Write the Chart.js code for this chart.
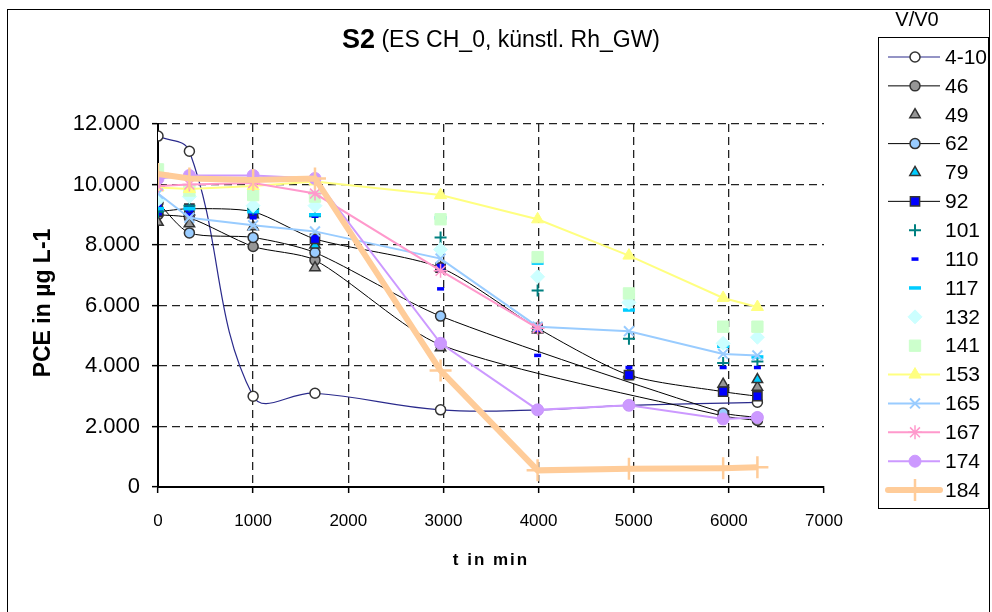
<!DOCTYPE html>
<html>
<head>
<meta charset="utf-8">
<script src="https://cdn.jsdelivr.net/npm/chart.js@4.4.1/dist/chart.umd.min.js"></script>
<style>
html, body { margin: 0; padding: 0; background: #fff; }
#wrap { width: 992px; height: 612px; position: relative; }
</style>
</head>
<body>
<div id="wrap"><canvas id="chart" width="992" height="612"></canvas></div>
<script>
// sampling times (min)
var times = [0, 330, 1000, 1650, 2970, 3990, 4950, 5940, 6300];

// PCE in ug/L per V/V0 series
var v4_10 = [11600, 11100, 3000, 3100, 2550, 2550, 2700, null, 2800];
var v46  = [9000, 8900, 7950, 7500, 4700, null, null, 2350, 2200];
var v49  = [8750, 8700, 8600, 7250, 4600, 5200, 3700, 3400, 3300];
var v62  = [9400, 8400, 8250, 7750, 5650, null, null, 2450, 2300];
var v79  = [9300, 9100, 9000, 8000, 7250, 5250, 3750, null, 3550];
var v92  = [9100, 9200, 9100, 8200, 7250, 5250, 3700, 3150, 3000];
var v101 = [9100, 9300, 9200, 8950, 8250, 6500, 4900, 4100, 4150];
var v110 = [9300, 9000, 8900, 8950, 6550, 4350, 3950, 3950, 3950];
var v117 = [9200, 9200, 9100, 9000, 8900, 7400, 5850, 4650, 4300];
var v132 = [9500, 9600, 9300, 9300, 7850, 6950, 6100, 4750, 4950];
var v141 = [10500, 9800, 9650, 9600, 8850, 7600, 6400, 5300, 5300];
var v153 = [9900, 9850, 9950, 10100, 9650, 8850, 7650, 6250, 5950];
var v165 = [9700, 8900, 8650, 8450, 7550, 5300, 5150, 4400, 4350];
var v167 = [9950, 10000, 10050, 9700, 7150, 5250, null, null, null];
var v174 = [10200, 10300, 10300, 10200, 4750, 2550, 2700, 2250, 2300];
var v184 = [10350, 10200, 10150, 10200, 3850, 550, 600, 620, 650];

var xTicks = [0, 1000, 2000, 3000, 4000, 5000, 6000, 7000];
var yTicks = [0, 2000, 4000, 6000, 8000, 10000, 12000];

var FONT = '"Liberation Sans", Arial, sans-serif';

function pts(vals) {
	var out = [];
	for (var i = 0; i < times.length; i++) {
		out.push({ x: times[i], y: vals[i] });
	}
	return out;
}

var idx = 0;
function makeSet(label, vals, s) {
	var ds = {
		label: label,
		data: pts(vals),
		showLine: s.line !== undefined,
		borderColor: s.line || 'transparent',
		borderWidth: s.lw || 1,
		tension: s.tension || 0,
		spanGaps: true,
		pointStyle: s.style,
		pointRadius: s.r,
		pointHoverRadius: s.r,
		pointBackgroundColor: s.fill || 'transparent',
		pointBorderColor: s.edge,
		pointBorderWidth: s.bw || 1,
		order: 100 - idx
	};
	idx++;
	return ds;
}

var datasets = [
	makeSet('4-10', v4_10, { line: '#2a2a8c', lw: 1.2, tension: 0.4, style: 'circle', r: 5, fill: '#ffffff', edge: '#333333', bw: 1.5 }),
	makeSet('46', v46, { line: '#000000', lw: 1, tension: 0.25, style: 'circle', r: 5, fill: '#969696', edge: '#333333', bw: 1.5 }),
	makeSet('49', v49, { style: 'triangle', r: 6, fill: '#969696', edge: '#333333', bw: 1.5 }),
	makeSet('62', v62, { line: '#000000', lw: 1, tension: 0.25, style: 'circle', r: 5, fill: '#99ccff', edge: '#333333', bw: 1.5 }),
	makeSet('79', v79, { style: 'triangle', r: 6, fill: '#00ccff', edge: '#333333', bw: 1.5 }),
	makeSet('92', v92, { line: '#000000', lw: 1, tension: 0.25, style: 'rect', r: 6.5, fill: '#0000ff', edge: '#333333', bw: 1.5 }),
	makeSet('101', v101, { style: 'cross', r: 6, edge: '#008080', bw: 2 }),
	makeSet('110', v110, { style: 'line', r: 3.5, edge: '#0000ff', bw: 3.5 }),
	makeSet('117', v117, { style: 'line', r: 6, edge: '#00ccff', bw: 3.5 }),
	makeSet('132', v132, { style: 'rectRot', r: 7, fill: '#ccffff', edge: '#ccffff', bw: 1 }),
	makeSet('141', v141, { style: 'rect', r: 8, fill: '#ccffcc', edge: '#ccffcc', bw: 1 }),
	makeSet('153', v153, { line: '#ffff80', lw: 2, style: 'triangle', r: 7, fill: '#ffff80', edge: '#ffff80', bw: 1 }),
	makeSet('165', v165, { line: '#99ccff', lw: 2, style: 'crossRot', r: 7, edge: '#99ccff', bw: 2 }),
	makeSet('167', v167, { line: '#ff99cc', lw: 2, style: 'star', r: 7, edge: '#ff99cc', bw: 1.5 }),
	makeSet('174', v174, { line: '#cc99ff', lw: 2, style: 'circle', r: 6, fill: '#cc99ff', edge: '#cc99ff', bw: 1 }),
	makeSet('184', v184, { line: '#ffcc99', lw: 6, style: 'cross', r: 11, edge: '#ffcc99', bw: 2.5 })
];

function fmtThousands(v) {
	if (v === 0) return '0';
	return String(v).replace(/\B(?=(\d{3})+(?!\d))/g, '.');
}

// frame, title, axis titles and the boxed legend
var decorations = {
	id: 'decorations',
	afterDraw: function(chart) {
		var ctx = chart.ctx;
		ctx.save();

		// outer frame
		ctx.strokeStyle = '#000';
		ctx.lineWidth = 1;
		ctx.strokeRect(7.5, 9.5, 982, 640);

		// title: bold "S2" + normal rest
		ctx.fillStyle = '#000';
		ctx.textBaseline = 'middle';
		ctx.textAlign = 'left';
		var t1 = 'S2', t2 = ' (ES CH_0, künstl. Rh_GW)';
		ctx.font = 'bold 27px ' + FONT;
		var w1 = ctx.measureText(t1).width;
		ctx.font = '23px ' + FONT;
		var w2 = ctx.measureText(t2).width;
		var x0 = 501 - (w1 + w2) / 2;
		ctx.font = 'bold 27px ' + FONT;
		ctx.fillText(t1, x0, 41);
		ctx.font = '23px ' + FONT;
		ctx.fillText(t2, x0 + w1, 41);

		// y axis title
		ctx.save();
		ctx.translate(44, 303);
		ctx.rotate(-Math.PI / 2);
		ctx.textAlign = 'center';
		ctx.font = 'bold 23px ' + FONT;
		ctx.fillText('PCE in µg L-1', 0, 0);
		ctx.restore();

		// x axis title
		ctx.textAlign = 'center';
		ctx.font = 'bold 17px ' + FONT;
		if ('letterSpacing' in ctx) ctx.letterSpacing = '2px';
		ctx.fillText('t in min', 491, 560);
		if ('letterSpacing' in ctx) ctx.letterSpacing = '0px';

		// legend title
		ctx.font = '20px ' + FONT;
		ctx.fillText('V/V0', 917, 20);

		// legend box
		ctx.strokeStyle = '#000';
		ctx.lineWidth = 1;
		ctx.strokeRect(878.5, 37.5, 110, 471);

		var sets = chart.data.datasets;
		for (var i = 0; i < sets.length; i++) {
			var ds = sets[i];
			var y = 57 + i * 28.87;
			if (ds.showLine) {
				ctx.save();
				ctx.strokeStyle = ds.borderColor;
				ctx.lineWidth = ds.borderWidth;
				ctx.lineCap = ds.borderWidth > 3 ? 'round' : 'butt';
				ctx.beginPath();
				ctx.moveTo(888, y);
				ctx.lineTo(940, y);
				ctx.stroke();
				ctx.restore();
			}
			if (Chart.helpers && Chart.helpers.drawPoint) {
				ctx.save();
				ctx.fillStyle = ds.pointBackgroundColor;
				ctx.strokeStyle = ds.pointBorderColor;
				ctx.lineWidth = ds.pointBorderWidth;
				Chart.helpers.drawPoint(ctx, {
					pointStyle: ds.pointStyle,
					radius: ds.pointRadius,
					borderWidth: ds.pointBorderWidth,
					rotation: 0
				}, 915, y);
				ctx.restore();
			}
			ctx.fillStyle = '#000';
			ctx.textAlign = 'left';
			ctx.textBaseline = 'middle';
			ctx.font = '21px ' + FONT;
			ctx.fillText(ds.label, 945, y + 1);
		}
		ctx.restore();
	}
};

var config = {
	type: 'scatter',
	data: { datasets: datasets },
	options: {
		responsive: false,
		animation: false,
		events: [],
		layout: { padding: { left: 0, top: 124, right: 168, bottom: 0 } },
		plugins: {
			legend: { display: false },
			title: { display: false },
			tooltip: { enabled: false }
		},
		scales: {
			x: {
				type: 'linear',
				min: 0,
				max: 7000,
				afterFit: function(scale) { scale.height = 125; },
				afterBuildTicks: function(scale) {
					scale.ticks = xTicks.map(function(v) { return { value: v }; });
				},
				ticks: {
					color: '#000',
					font: { family: FONT, size: 17 },
					padding: 18,
					maxRotation: 0,
					callback: function(v) { return String(v); }
				},
				grid: {
					color: function(c) { return (c.tick && c.tick.value === 7000) ? 'rgba(0,0,0,0)' : '#222'; },
					lineWidth: 1.3,
					tickLength: 6,
					tickColor: '#000',
					tickWidth: 1.5
				},
				border: { display: true, color: '#000', width: 2, dash: [8, 5] }
			},
			y: {
				type: 'linear',
				min: 0,
				max: 12000,
				afterFit: function(scale) { scale.width = 158; },
				afterBuildTicks: function(scale) {
					scale.ticks = yTicks.map(function(v) { return { value: v }; });
				},
				ticks: {
					color: '#000',
					font: { family: FONT, size: 22 },
					padding: 12,
					callback: function(v) { return fmtThousands(v); }
				},
				grid: {
					color: '#222',
					lineWidth: 1.3,
					tickLength: 6,
					tickColor: '#000',
					tickWidth: 1.5
				},
				border: { display: true, color: '#000', width: 2, dash: [8, 5] }
			}
		}
	},
	plugins: [decorations]
};

var ctx = document.getElementById('chart').getContext('2d');
window.pceChart = new Chart(ctx, config);
</script>
</body>
</html>
